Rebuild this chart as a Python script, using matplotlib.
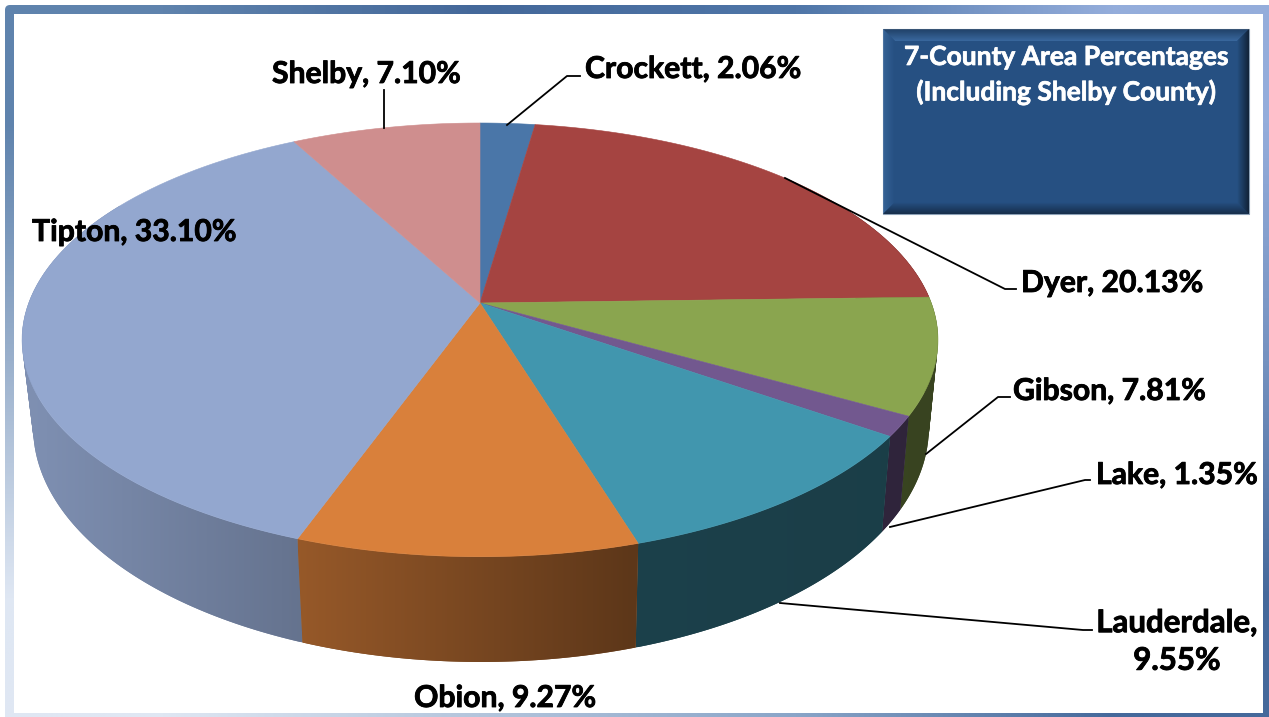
import numpy as np
import matplotlib.pyplot as plt
import matplotlib.patheffects as pe
from matplotlib.colors import to_rgb
from matplotlib.patches import FancyBboxPatch, PathPatch, Polygon, Rectangle
from matplotlib.path import Path

plt.rcParams['font.family'] = ['Lato', 'DejaVu Sans']

counties = ['Crockett', 'Dyer', 'Gibson', 'Lake', 'Lauderdale', 'Obion', 'Tipton', 'Shelby']
shares = [2.06, 20.13, 7.81, 1.35, 9.55, 9.27, 33.10, 7.10]
colors = ['#4a76a8', '#a54441', '#8aa54f', '#72588f', '#4196ae', '#d9803b', '#93a7cf', '#cf8e8e']
box_lines = ['7-County Area Percentages', '(Including Shelby County)']

W, H = 1269, 717
# perspective of the tilted pie, in picture pixels
CX, CY = 480.0, 303.0
RX, RY, K = 451.3, 210.6, 0.17


def top_point(theta):
    # theta runs clockwise from twelve o'clock, in radians
    d = 1 + K * np.cos(theta)
    return CX + RX * np.sin(theta) / d, CY - RY * np.cos(theta) / d


def base_point(theta):
    x, y = top_point(theta)
    return CX + 1 + 0.978 * (x - CX), 1.083 * y + 59


def wall_shade(x):
    return np.interp(x, [30, 300, 634, 940], [0.86, 0.69, 0.43, 0.41])


def wall_path(th):
    # union of small quads, all wound the same way, so the part past the
    # silhouette stays filled
    tx, ty = top_point(th)
    bx, by = base_point(th)
    quads = []
    for j in range(len(th) - 1):
        q = np.array([(tx[j], ty[j]), (tx[j + 1], ty[j + 1]), (bx[j + 1], by[j + 1]), (bx[j], by[j])])
        x, y = q[:, 0], q[:, 1]
        area = np.sum(x * np.roll(y, -1) - np.roll(x, -1) * y)
        if area < 0:
            q = q[::-1]
        quads.append(Path(np.vstack((q, q[0])), closed=True))
    return Path.make_compound_path(*quads)


def draw_frame(ax):
    grid = [['#5f83ad', '#44689a', '#4f76a8', '#94addb'],
            ['#9ab0cc', '#7f9abf', '#6f8fb8', '#7592c0'],
            ['#dfe7f3', '#b4c5dc', '#8aa5c8', '#45699b']]
    rgb = np.array([[to_rgb(c) for c in row] for row in grid])
    im = ax.imshow(rgb, extent=(5, 1272, 717, 5), aspect='auto', interpolation='bilinear', zorder=1)
    clip = FancyBboxPatch((5, 5), 1270, 720, boxstyle='round,pad=0,rounding_size=5',
                          transform=ax.transData, facecolor='none', edgecolor='none')
    ax.add_patch(clip)
    im.set_clip_path(clip)
    ax.add_patch(Rectangle((14, 14), 1249, 699, facecolor='white', edgecolor='none', zorder=2))


def draw_box(ax):
    x0, x1, y0, y1 = 883, 1249, 29, 214
    b = 12
    ax.add_patch(Rectangle((x0, y0), x1 - x0, y1 - y0, facecolor='#265082',
                           edgecolor='#8ba0b6', linewidth=0.8, zorder=3))
    sides = [('#1e3c60', '#3f6ea5', (x0, y0), (x1, y0), (1, 1), (-1, 1)),
             ('#3a689c', '#265082', (x0, y0), (x0, y1), (1, 1), (1, -1)),
             ('#0b1420', '#265082', (x1, y0), (x1, y1), (-1, 1), (-1, -1)),
             ('#12243a', '#265082', (x0, y1), (x1, y1), (1, -1), (-1, -1))]
    n = b * 2
    for c_out, c_in, p, q, dp, dq in sides:
        c_out = np.array(to_rgb(c_out))
        c_in = np.array(to_rgb(c_in))
        for i in range(n):
            t0 = b * i / n
            t1 = b * (i + 1) / n
            f = i / (n - 1)
            pts = [(p[0] + dp[0] * t0, p[1] + dp[1] * t0), (q[0] + dq[0] * t0, q[1] + dq[1] * t0),
                   (q[0] + dq[0] * t1, q[1] + dq[1] * t1), (p[0] + dp[0] * t1, p[1] + dp[1] * t1)]
            ax.add_patch(Polygon(pts, facecolor=c_out + (c_in - c_out) * f, edgecolor='none', zorder=3.1))
    for line, y in zip(box_lines, [57, 92]):
        t = ax.text(1066, y, line, color='white', fontsize=19, fontweight='bold',
                    ha='center', va='center', zorder=4)
        t.set_path_effects([pe.withStroke(linewidth=0.5, foreground='white')])


def draw_pie(ax):
    vals = np.asarray(shares)
    edges = np.concatenate(([0], np.cumsum(vals))) / vals.sum() * 2 * np.pi

    # side wall of each slice, a gradient clipped to the slice outline
    lo, hi = np.radians(60), np.radians(300)
    for i in np.argsort(-np.abs((edges[:-1] + edges[1:]) / 2 - np.pi)):
        a, b = max(edges[i], lo), min(edges[i + 1], hi)
        if a >= b:
            continue
        path = wall_path(np.linspace(a, b, 120))
        pts = path.vertices
        base = np.array(to_rgb(colors[i]))
        xs = np.linspace(pts[:, 0].min(), pts[:, 0].max(), 64)
        ys = (pts[:, 1].min(), pts[:, 1].max())
        ax.add_patch(PathPatch(path, facecolor=base * wall_shade(xs.mean()), edgecolor='none', zorder=5))
        grad = (base[None, :] * wall_shade(xs)[:, None])[None, :, :]
        im = ax.imshow(grad, extent=(xs[0], xs[-1], ys[1], ys[0]), aspect='auto',
                       interpolation='bilinear', zorder=5)
        im.set_clip_path(path, ax.transData)

    # top face
    for i in range(len(vals)):
        th = np.linspace(edges[i], edges[i + 1], 80)
        x, y = top_point(th)
        pts = np.column_stack((np.r_[CX, x], np.r_[CY, y]))
        ax.add_patch(Polygon(pts, facecolor=colors[i], edgecolor=colors[i], linewidth=0.4, zorder=6))


def draw_labels(ax):
    leaders = {'Crockett': [(507, 125), (567, 76), (580, 76)],
               'Dyer': [(785, 178), (1005, 289), (1016, 289)],
               'Gibson': [(926, 454), (998, 397), (1010, 397)],
               'Lake': [(890, 527), (1085, 480), (1090, 480)],
               'Lauderdale': [(780, 603), (1083, 630), (1092, 630)],
               'Shelby': [(384, 128), (384, 90)]}
    for name, pts in leaders.items():
        pts = np.array(pts)
        ax.plot(pts[:, 0], pts[:, 1], color='black', linewidth=1.3, zorder=7)
    spots = {'Crockett': (585, 69, 'left'), 'Dyer': (1021, 283, 'left'), 'Gibson': (1013, 391, 'left'),
             'Lake': (1096, 475, 'left'), 'Obion': (505, 698, 'center'), 'Tipton': (32, 232, 'left'),
             'Shelby': (272, 74, 'left')}
    stroke = [pe.withStroke(linewidth=0.6, foreground='black')]
    for name, val in zip(counties, shares):
        if name == 'Lauderdale':
            t = ax.text(1177, 642, f'{name},\n{val:.2f}%', fontsize=22.5, fontweight='bold', ha='center',
                        va='center', linespacing=1.42, zorder=8)
        else:
            x, y, ha = spots[name]
            t = ax.text(x, y, f'{name}, {val:.2f}%', fontsize=21.7, fontweight='bold', ha=ha, va='center', zorder=8)
        t.set_path_effects(stroke)


def main():
    fig = plt.figure(figsize=(W / 100, H / 100), dpi=100)
    ax = fig.add_axes([0, 0, 1, 1])
    draw_frame(ax)
    draw_box(ax)
    draw_pie(ax)
    draw_labels(ax)
    ax.set_xlim(0, W)
    ax.set_ylim(H, 0)
    ax.axis('off')
    fig.savefig('out.png', dpi=100, facecolor='white')


if __name__ == '__main__':
    main()
